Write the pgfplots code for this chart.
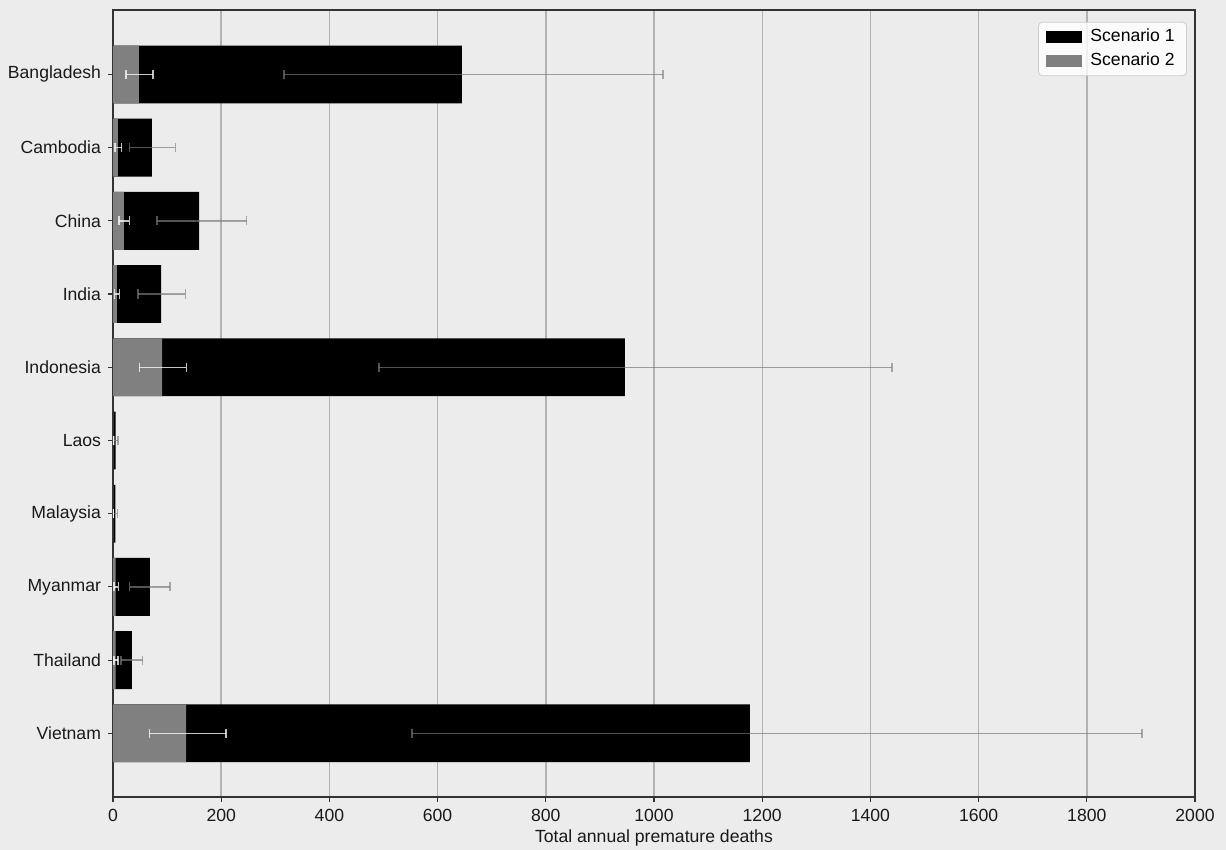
\documentclass[border=0pt]{standalone}
\usepackage{fontspec}
\setmainfont{Liberation Sans}
\usepackage{pgfplots}
\usepackage{pgfplotstable}
\pgfplotsset{compat=1.18}
\usetikzlibrary{backgrounds}
\definecolor{bg}{HTML}{ECECEC}
\definecolor{gridc}{HTML}{B2B2B2}
\definecolor{sctwo}{HTML}{808080}

% y: 0=Bangladesh ... 9=Vietnam ; v = value, em/ep = error minus/plus
\pgfplotstableread{
y v em ep
0 645 329 372
1 72 41 43
2 159 78 88
3 89 43 45
4 946 454 494
5 5 3 4
6 4.5 3.5 3.5
7 68 37 37
8 35 20 20
9 1177 624 725
}\scone
\pgfplotstableread{
y v em ep
0 48 24 26
1 9 5 7
2 20 9 10
3 7 4 5
4 90.6 42 45
5 0.6 0.4 0.4
6 0.5 0.4 0.4
7 5 3 5
8 5 3 4
9 135 68 74
}\sctwo

\begin{document}
\begin{tikzpicture}
\begin{axis}[
  scale only axis, width=541pt, height=393.5pt,
  xbar, bar width=0.79, bar shift=0pt,
  xmin=0, xmax=2000, ymin=-0.88, ymax=9.87, y dir=reverse,
  ytick={0,...,9},
  yticklabels={Bangladesh,Cambodia,China,India,Indonesia,Laos,Malaysia,Myanmar,Thailand,Vietnam},
  xtick={0,200,...,2000},
  xtick pos=bottom, ytick pos=left,
  tick align=outside, major tick length=2.5pt,
  tick style={black!80, line width=0.6pt},
  xmajorgrids, grid style={gridc, line width=0.7pt},
  axis line style={black!80, line width=0.6pt},
  axis background/.style={fill=bg},
  /pgf/number format/assume math mode=true,
  /pgf/number format/1000 sep={},
  ticklabel style={font=\fontsize{8.8}{10}\selectfont, text=black!90},
  xlabel={Total annual premature deaths},
  xlabel style={font=\fontsize{8.8}{10}\selectfont, text=black!90, yshift=3pt},
  legend cell align=left,
  legend style={at={(0.9926,0.985)}, anchor=north east, draw=black!20, fill=white, fill opacity=0.8, text opacity=1, rounded corners=2pt, font=\fontsize{8.8}{10}\selectfont, row sep=0pt, inner xsep=4pt, inner ysep=1.5pt, column sep=2pt},
  legend image code/.code={\fill[#1, sharp corners, fill opacity=1] (0pt,-3pt) rectangle (18pt,3pt);},
]
\addplot[fill=black, draw=none,
  error bars/.cd, x dir=both, x explicit, error mark=|,
  error bar style={draw=sctwo, draw opacity=0.65, line width=0.7pt},
  error mark options={draw=sctwo, draw opacity=0.65, line width=0.7pt, mark size=2.3pt}]
  table[x=v, y=y, x error minus=em, x error plus=ep] {\scone};
\addlegendentry{Scenario 1}
\addplot[fill=sctwo, draw=none,
  error bars/.cd, x dir=both, x explicit, error mark=|,
  error bar style={draw=white, draw opacity=0.75, line width=0.7pt},
  error mark options={draw=white, draw opacity=0.75, line width=0.7pt, mark size=2.3pt}]
  table[x=v, y=y, x error minus=em, x error plus=ep] {\sctwo};
\addlegendentry{Scenario 2}
\end{axis}
\pgfresetboundingbox
\begin{scope}[on background layer]
\fill[bg] ([xshift=-56.5pt,yshift=-26.5pt]current axis.south west) rectangle ([xshift=15.5pt,yshift=5pt]current axis.north east);
\end{scope}
\path[use as bounding box] ([xshift=-56.5pt,yshift=-26.5pt]current axis.south west) rectangle ([xshift=15.5pt,yshift=5pt]current axis.north east);
\end{tikzpicture}
\end{document}
